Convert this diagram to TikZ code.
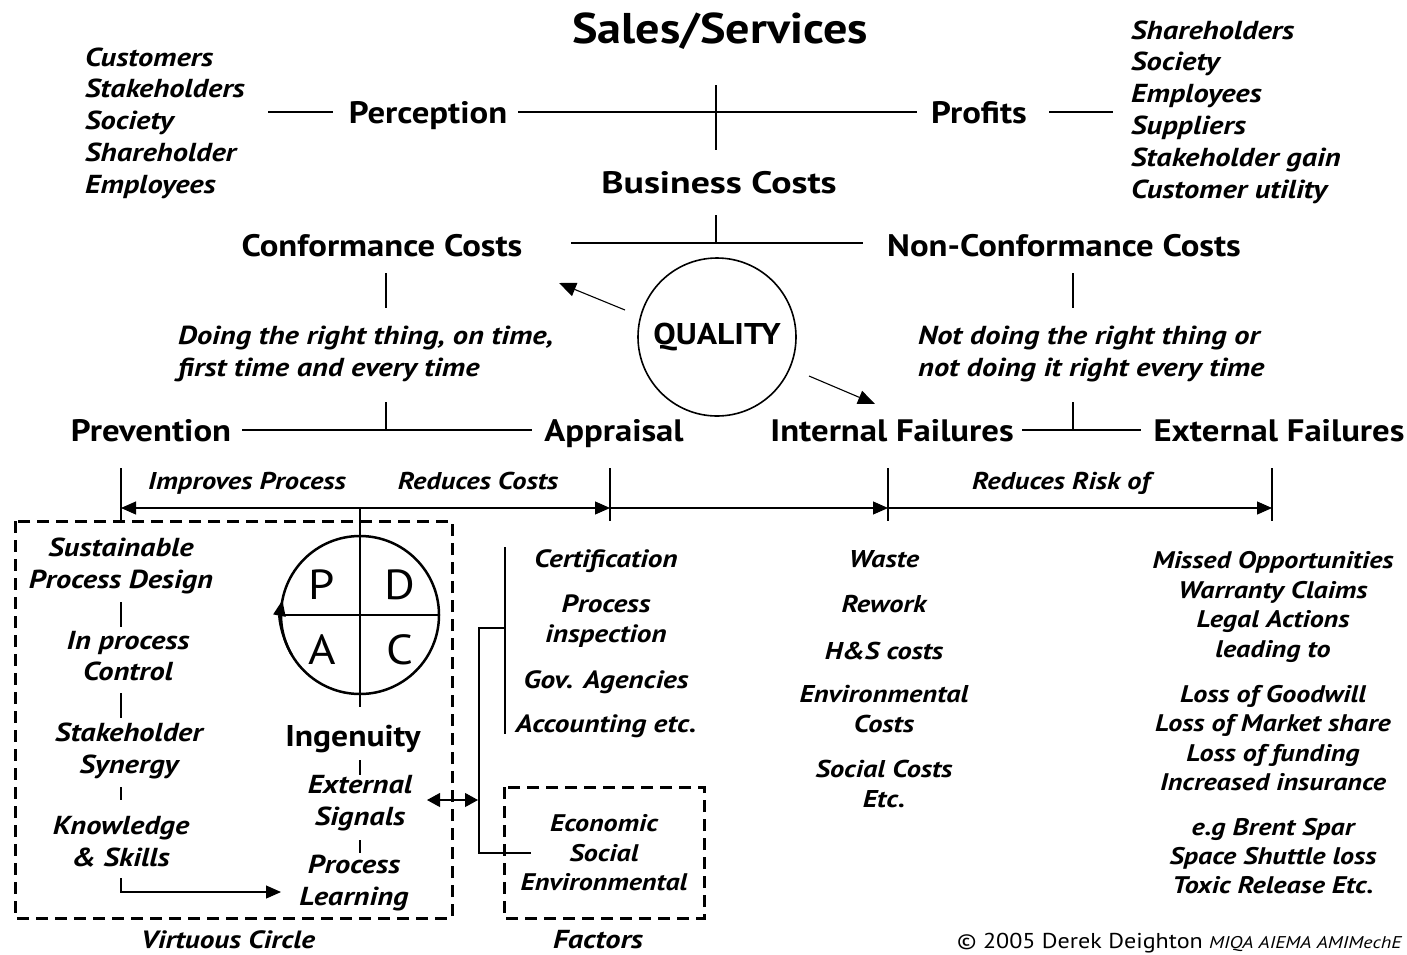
\documentclass[tikz,border=0pt]{standalone}
\usepackage{fontspec}
\setmainfont{PT Sans}[FakeStretch=1.12]
\newfontfamily\itfont{PT Sans}[FakeStretch=1.17]
\newfontfamily\widefont{PT Sans}[FakeStretch=1.22]
\usetikzlibrary{arrows.meta}
\begin{document}
\begin{tikzpicture}[x=1pt,y=-1pt,
  ln/.style={line width=1.1pt},
  title/.style={font=\bfseries\fontsize{43}{50}\selectfont, inner sep=0pt, anchor=base},
  hd/.style={font=\bfseries\fontsize{31}{38}\selectfont, inner sep=0pt, anchor=base},
  lst/.style={font=\itfont\bfseries\itshape\fontsize{26}{31.8}\selectfont, inner sep=0pt, align=left},
  it/.style={font=\itfont\bfseries\itshape\fontsize{26}{31.5}\selectfont, inner sep=0pt, align=center},
  itm/.style={font=\itfont\bfseries\itshape\fontsize{24.3}{30}\selectfont, inner sep=0pt, align=center},
  sm/.style={font=\itfont\bfseries\itshape\fontsize{24}{29.4}\selectfont, inner sep=0pt, align=center},
  big/.style={font=\fontsize{42}{46}\selectfont, inner sep=0pt},
  tri/.style={-{Triangle[length=15pt,width=13pt]}},
  dashbox/.style={draw, line width=3pt, dash pattern=on 12pt off 7pt},
]
\useasboundingbox (0,0) rectangle (1407,954);

% ---------- top: sales, perception, profits ----------
\node[title] (sales) at (720,43) {Sales/Services};
\node[lst, anchor=west] (leftlist) at (85,123)
  {Customers\\Stakeholders\\Society\\Shareholder\\Employees};
\node[hd] (perc) at (428,123) {Perception};
\node[hd] (prof) at (979,123) {Profits};
\node[lst, anchor=west] (rightlist) at (1131,112)
  {Shareholders\\Society\\Employees\\Suppliers\\Stakeholder gain\\Customer utility};
\node[hd, font=\widefont\bfseries\fontsize{31}{38}\selectfont] (bus) at (719,193) {Business Costs};

\coordinate (hub) at (716,112);
\draw[ln] (268,112) -- (perc.west |- hub) [shorten >=16pt];
\draw[ln, shorten <=11pt, shorten >=14pt] (perc.east |- hub) -- (prof.west |- hub);
\draw[ln, shorten <=22pt] (prof.east |- hub) -- (1113,112);
\draw[ln] (hub |- 0,85) -- (hub |- 0,150);

% ---------- business costs split ----------
\coordinate (bc) at (716,243);
\draw[ln] (bc |- 0,215) -- (bc);
\draw[ln] (571,243) -- (863,243);
\node[hd] (conf) at (382,256) {Conformance Costs};
\node[hd] (nonconf) at (1064,256) {Non-Conformance Costs};

% ---------- quality ----------
\node[draw, circle, line width=1.6pt, minimum size=158pt, inner sep=0pt,
      font=\bfseries\fontsize{30}{36}\selectfont] (q) at (717,337) {QUALITY};
\coordinate (qa1) at (625,310);
\coordinate (qa2) at (559,283);
\coordinate (qb1) at (809,376);
\coordinate (qb2) at (875,404);
\draw[ln, -{Triangle[length=17pt,width=14pt]}] (qa1) -- (qa2);
\draw[ln, -{Triangle[length=17pt,width=14pt]}] (qb1) -- (qb2);

% ---------- conformance branch ----------
\node[lst, anchor=west] (doing) at (178,354)
  {Doing the right thing, on time,\\first time and every time};
\coordinate (cj) at (386,430);
\draw[ln] (cj |- 0,273) -- (cj |- 0,308);
\draw[ln] (cj |- 0,402) -- (cj);
\node[hd] (prev) at (151,441.5) {Prevention};
\node[hd] (appr) at (614,441.5) {Appraisal};
\draw[ln] (242,430) -- (532,430);

% ---------- non-conformance branch ----------
\node[lst, anchor=west] (notdoing) at (918,354)
  {Not doing the right thing or\\not doing it right every time};
\coordinate (nj) at (1073,430);
\draw[ln] (nj |- 0,273) -- (nj |- 0,308);
\draw[ln] (nj |- 0,402) -- (nj);
\node[hd] (intf) at (892,441.5) {Internal Failures};
\node[hd] (extf) at (1279,441.5) {External Failures};
\draw[ln] (1022,430) -- (1141,430);

% ---------- dimension row ----------
\coordinate (d1) at (121,508);
\coordinate (d2) at (610,508);
\coordinate (d3) at (888,508);
\coordinate (d4) at (1272,508);
\foreach \d in {d1,d2,d3,d4} \draw[ln] (\d |- 0,468) -- (\d |- 0,521);
\draw[ln, {Triangle[length=15pt,width=13pt]}-{Triangle[length=15pt,width=13pt]}] (d1) -- (d2);
\draw[ln, tri] (d2) -- (d3);
\draw[ln, tri] (d3) -- (d4);
\node[itm, anchor=base] (imp) at (247,489) {Improves Process};
\node[itm, anchor=base] (red) at (478,489) {Reduces Costs};
\node[itm, anchor=base] (risk) at (1061,489) {Reduces Risk of};

% ---------- virtuous circle ----------
\draw[dashbox] (15,521) rectangle (452,918);
\node[it, font=\itfont\bfseries\itshape\fontsize{25}{30}\selectfont] (vc) at (228,940) {Virtuous Circle};

\node[draw, circle, line width=2.5pt, minimum size=158pt, inner sep=0pt] (pdca) at (360,615) {};
\draw[ln] (pdca.center |- d1) -- (pdca.center |- 0,707);
\draw[ln] (pdca.west) -- (pdca.east);
\draw[line width=2.5pt, -{Triangle[length=16pt,width=12pt]}]
  (pdca.center) ++(150:79) arc[start angle=150, end angle=191, radius=79];
\node[big] (p) at (322,585) {P};
\node[big] (d) at (400,585) {D};
\node[big] (a) at (322,650) {A};
\node[big] (c) at (400,650) {C};

\node[it] (sus) at (121,566) {Sustainable\\Process Design};
\node[it] (inp) at (128,656) {In process\\Control};
\node[it] (stk) at (129,751) {Stakeholder\\Synergy};
\node[it] (knw) at (121,842) {Knowledge\\\& Skills};
\coordinate (lc) at (121,892);
\draw[ln] (lc |- 0,602) -- (lc |- 0,627);
\draw[ln] (lc |- 0,693) -- (lc |- 0,718);
\draw[ln] (lc |- 0,787) -- (lc |- 0,800);
\draw[ln, tri] (lc |- 0,878) -- (lc) -- (281,892);

\node[hd, font=\bfseries\fontsize{30}{36}\selectfont] (ing) at (353,746) {Ingenuity};
\node[it] (ext) at (360,803) {External\\Signals};
\node[it] (pl) at (354,883) {Process\\Learning};
\draw[ln] (pdca.center |- 0,760) -- (pdca.center |- 0,775);
\draw[ln] (pdca.center |- 0,840) -- (pdca.center |- 0,853);

\draw[ln, {Triangle[length=13pt,width=14pt]}-{Triangle[length=13pt,width=14pt]}] (427,800) -- (478,800);

% ---------- appraisal list ----------
\node[itm, font=\itfont\bfseries\itshape\fontsize{25}{30.5}\selectfont] (cert) at (606,561) {Certification};
\node[itm, font=\itfont\bfseries\itshape\fontsize{25}{30.5}\selectfont] (insp) at (606,621) {Process\\inspection};
\node[itm, font=\itfont\bfseries\itshape\fontsize{25}{30.5}\selectfont] (gov) at (606,682) {Gov. Agencies};
\node[itm, font=\itfont\bfseries\itshape\fontsize{25}{30.5}\selectfont] (acc) at (606,726) {Accounting etc.};
\draw[ln] (505,547) -- (505,734);
\draw[ln] (505,628) -| (479,853) -- (531,853);

\draw[dashbox] (504,787) rectangle (704,918);
\node[sm] (fac) at (604,853) {Economic\\Social\\Environmental};
\node[it] (factors) at (598,940) {Factors};

% ---------- internal failures list ----------
\node[itm] (waste) at (884,559) {Waste};
\node[itm] (rew) at (884,604) {Rework};
\node[itm] (hs) at (884,651) {H\&S costs};
\node[itm] (env) at (884,709) {Environmental\\Costs};
\node[itm] (soc) at (884,784) {Social Costs\\Etc.};

% ---------- external failures list ----------
\node[sm] (ex1) at (1273,607) {Missed Opportunities\\Warranty Claims\\Legal Actions\\leading to};
\node[sm] (ex2) at (1273,738) {Loss of Goodwill\\Loss of Market share\\Loss of funding\\Increased insurance};
\node[sm] (ex3) at (1273,856) {e.g Brent Spar\\Space Shuttle loss\\Toxic Release Etc.};

% ---------- credit ----------
\node[anchor=base west, inner sep=0pt, font=\fontsize{21.5}{24}\selectfont] (cr) at (957,948) {\textcopyright{} 2005 Derek Deighton};
\node[anchor=base west, inner sep=0pt, font=\itfont\itshape\fontsize{17}{20}\selectfont] (cr2) at (1209,948) {MIQA AIEMA AMIMechE};
\end{tikzpicture}
\end{document}
